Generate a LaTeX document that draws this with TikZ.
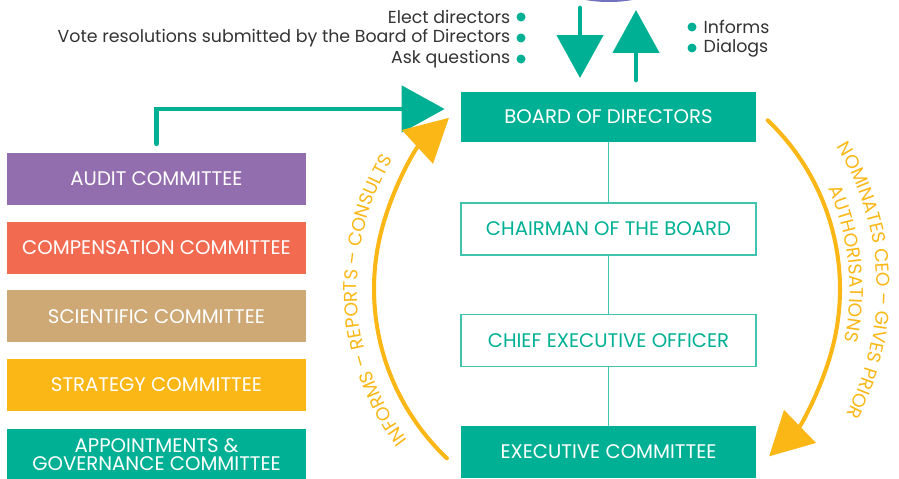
\documentclass[tikz,border=0pt]{standalone}
\usepackage{fontspec}
\setmainfont{Poppins}
\usetikzlibrary{positioning,arrows.meta,calc,decorations.text}
\definecolor{govteal}{RGB}{0,176,148}
\definecolor{auditpurple}{RGB}{147,110,174}
\definecolor{compcoral}{RGB}{242,106,80}
\definecolor{scitan}{RGB}{206,169,118}
\definecolor{stratyellow}{RGB}{251,183,22}
\definecolor{arcorange}{RGB}{251,183,22}
\definecolor{shlav}{RGB}{112,114,192}
\definecolor{txtgray}{RGB}{51,51,51}
\newcommand{\boxfont}{\fontsize{11.2}{12.5}\selectfont}
\newcommand{\notefont}{\fontsize{9.9}{11}\selectfont}
\newcommand{\arcfont}{\fontsize{10.6}{12}\selectfont\color{arcorange}}
\tikzset{
  box/.style={minimum width=5.9cm, minimum height=1cm, inner sep=0pt, font=\boxfont, align=center},
  solidbox/.style={box, fill=govteal, text=white},
  linebox/.style={box, draw=govteal!75, line width=1.1pt, text=govteal, minimum height=1.04cm},
  cttee/.style={box, minimum width=5.98cm, minimum height=1.04cm, text=white},
  dot/.style={circle, fill=govteal, inner sep=0pt, minimum size=0.18cm},
  note/.style={font=\notefont, text=txtgray, inner sep=0pt},
  fatarrow/.style={govteal, line width=2.8pt, line cap=round, -{Triangle[length=0.86cm,width=0.92cm]}},
  bendarrow/.style={arcorange, line width=2.3pt, line cap=round, -{Triangle[length=0.86cm,width=0.9cm]}},
  arctext/.style={decorate, decoration={text along path, text align=center, text={|\arcfont|#1}}},
}
\begin{document}
\begin{tikzpicture}[x=0.02cm, y=0.02cm]
  \useasboundingbox (0,0) rectangle (899,478);
  % shape cut by the top edge
  \begin{scope}
    \clip (0,0) rectangle (899,478);
    \fill[shlav] (609,501) ellipse[x radius=60, y radius=25];
  \end{scope}

  % board and management
  \node[solidbox] (bod) at (608.5,361) {BOARD OF DIRECTORS};
  \node[linebox] (chair) at (608.5,249) {CHAIRMAN OF THE BOARD};
  \node[linebox] (ceo) at (608.5,137.5) {CHIEF EXECUTIVE OFFICER};
  \node[solidbox, minimum height=1.04cm] (excom) at (608.5,26) {EXECUTIVE COMMITTEE};
  \draw[govteal!75, line width=0.9pt] (bod) -- (chair) -- (ceo) -- (excom);

  % committees
  \begin{scope}[node distance=0.32cm]
    \node[cttee, fill=auditpurple] (audit) at (156.5,299) {AUDIT COMMITTEE};
    \node[cttee, fill=compcoral, below=of audit] (comp) {COMPENSATION COMMITTEE};
    \node[cttee, fill=scitan, below=of comp] (sci) {SCIENTIFIC COMMITTEE};
    \node[cttee, fill=stratyellow, below=of sci] (strat) {STRATEGY COMMITTEE};
    \node[cttee, fill=govteal, below=0.34cm of strat] (appoint) {APPOINTMENTS \&\\[-2pt]GOVERNANCE COMMITTEE};
  \end{scope}
  \draw[fatarrow] ([yshift=0.18cm]audit.north) |- ([xshift=-0.32cm,yshift=0.16cm]bod.west);

  % shareholders
  \node[dot] (d1) at (521,461) {};
  \node[dot] (d2) at (521,440) {};
  \node[dot] (d3) at (521,419) {};
  \node[note, left=0.11cm of d1] {Elect directors};
  \node[note, left=0.11cm of d2] {Vote resolutions submitted by the Board of Directors};
  \node[note, left=0.11cm of d3] {Ask questions};
  \node[dot] (d4) at (692,451) {};
  \node[dot] (d5) at (692,430) {};
  \node[note, right=0.13cm of d4] {Informs};
  \node[note, right=0.13cm of d5] {Dialogs};
  \coordinate (dntop) at (580,470);
  \coordinate (dntip) at (580,400);
  \coordinate (upfoot) at (636,398);
  \coordinate (uptip) at (636,468);
  \draw[fatarrow] (dntop) -- (dntip);
  \draw[fatarrow] (upfoot) -- (uptip);

  % loop between board and executive committee
  \coordinate (hub) at (607,189);
  \draw[bendarrow] ($(hub)+(226.6:233)$) arc[start angle=226.6, end angle=132.7, radius=233];
  \draw[bendarrow] ($(hub)+(46.4:233)$) arc[start angle=46.4, end angle=-45.9, radius=233];
  \path[arctext={INFORMS – REPORTS – CONSULTS}] ($(hub)+(226:250)$) arc[start angle=226, end angle=140, radius=250];
  \path[arctext={NOMINATES CEO – GIVES PRIOR}] ($(hub)+(42:270)$) arc[start angle=42, end angle=-38, radius=270];
  \path[arctext={AUTHORISATIONS}] ($(hub)+(45:243)$) arc[start angle=45, end angle=-33, radius=243];
\end{tikzpicture}
\end{document}
